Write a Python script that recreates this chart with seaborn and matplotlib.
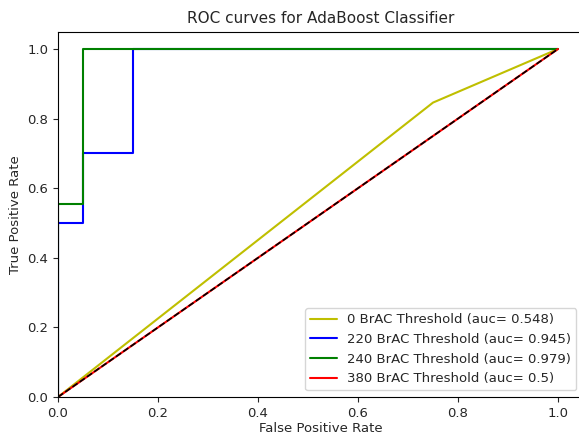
import numpy as np
import pandas as pd
import seaborn as sns
import matplotlib
matplotlib.use('Agg')
import matplotlib.pyplot as plt

# Curvas ROC
fpr_0 = [0.0, 0.75, 1.0]
tpr_0 = [0.0, 0.846, 1.0]
fpr_220 = [0.0, 0.0, 0.05, 0.05, 0.15, 0.15, 1.0]
tpr_220 = [0.0, 0.5, 0.5, 0.7, 0.7, 1.0, 1.0]
fpr_240 = [0.0, 0.0, 0.05, 0.05, 1.0]
tpr_240 = [0.0, 0.556, 0.556, 1.0, 1.0]
fpr_380 = [0.0, 1.0]
tpr_380 = [0.0, 1.0]

labels = ['0 BrAC Threshold (auc= 0.548)',
          '220 BrAC Threshold (auc= 0.945)',
          '240 BrAC Threshold (auc= 0.979)',
          '380 BrAC Threshold (auc= 0.5)']
cores = ['y', 'b', 'g', 'r']

sns.set_style('ticks')
plt.rcParams['font.family'] = ['DejaVu Sans']
plt.rcParams['font.size'] = 9.5

fig = plt.figure(figsize=(5.79, 4.38), dpi=100)
ax = fig.add_axes([58 / 579, 41 / 438, 525 / 579, 365.4 / 438])

curvas = [(fpr_0, tpr_0), (fpr_220, tpr_220), (fpr_240, tpr_240), (fpr_380, tpr_380)]
for (fpr, tpr), lab, c in zip(curvas, labels, cores):
    df = pd.DataFrame({'fpr': fpr, 'tpr': tpr})
    sns.lineplot(data=df, x='fpr', y='tpr', sort=False, estimator=None,
                 color=c, label=lab, ax=ax, linewidth=1.5)

ax.plot([0, 1], [0, 1], 'k--', linewidth=1.2)

ax.set_xlim(0, 1.05)
ax.set_ylim(0, 1.05)
ax.set_xticks(np.arange(0, 1.01, 0.2))
ax.set_yticks(np.arange(0, 1.01, 0.2))
ax.tick_params(labelsize=9.5)
ax.set_xlabel('False Positive Rate', fontsize=9.5, labelpad=2)
ax.set_ylabel('True Positive Rate', fontsize=9.5)
ax.set_title('ROC curves for AdaBoost Classifier', fontsize=11)
ax.legend(loc='lower right', frameon=True, fontsize=9.5)
for s in ax.spines.values():
    s.set_visible(True)
    s.set_color('black')

fig.savefig('out.png', dpi=100)
